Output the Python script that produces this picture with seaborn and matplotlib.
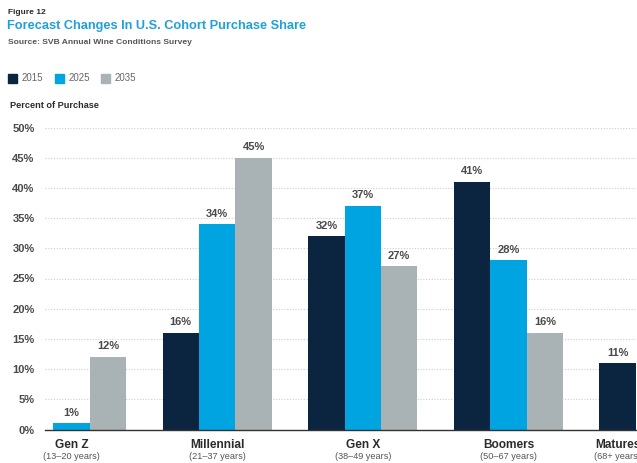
import numpy as np
import pandas as pd
import matplotlib
matplotlib.use("Agg")
import matplotlib.pyplot as plt
import seaborn as sns
from matplotlib.patches import Rectangle
import matplotlib.transforms as mtransforms

# ---- data ----
cohorts = ["Gen Z", "Millennial", "Gen X", "Boomers", "Matures"]
age_ranges = ["(13\u201320 years)", "(21\u201337 years)", "(38\u201349 years)",
              "(50\u201367 years)", "(68+ years)"]
years = ["2015", "2025", "2035"]
share_2015 = [0, 16, 32, 41, 11]
share_2025 = [1, 34, 37, 28, np.nan]
share_2035 = [12, 45, 27, 16, np.nan]
yticks = [0, 5, 10, 15, 20, 25, 30, 35, 40, 45, 50]

colors = {"2015": "#0b2440", "2025": "#00a4e0", "2035": "#a9b3b5"}
title_blue = "#1ea0da"

rows = []
for yr, vals in zip(years, [share_2015, share_2025, share_2035]):
    for c, v in zip(cohorts, vals):
        rows.append({"cohort": c, "year": yr, "share": v})
df = pd.DataFrame(rows).dropna()

sns.set_theme(style="white")
plt.rcParams["font.family"] = ["Liberation Sans", "DejaVu Sans"]
NARROW = ["Liberation Sans Narrow", "Liberation Sans", "DejaVu Sans"]

fig = plt.figure(figsize=(6.37, 4.63), dpi=100)
ax = fig.add_axes([45 / 637, 33.5 / 463, 592 / 637, 302 / 463])

sns.barplot(data=df, x="cohort", y="share", hue="year", order=cohorts,
            hue_order=years, palette=colors, width=0.75, saturation=1,
            errorbar=None, legend=False, linewidth=0, ax=ax)

ax.set_xlim(-0.182, 3.883)
ax.set_ylim(0, 50)
ax.set_yticks(yticks)
ax.set_yticklabels([f"{t}%" for t in yticks], fontsize=8, fontweight="bold",
                   color="#4a4a4a")
ax.tick_params(axis="y", length=0, pad=7.5)
ax.grid(axis="y", linestyle=(0, (1, 1.5)), color="#cfcfcf", linewidth=0.8)
ax.set_axisbelow(True)
for s in ["top", "right", "left"]:
    ax.spines[s].set_visible(False)
ax.spines["bottom"].set_color("#333333")
ax.spines["bottom"].set_linewidth(1.0)
ax.set_xlabel("")
ax.set_ylabel("")

# x tick labels (Matures label sits under its visible bar)
tick_pos = [0, 1, 2, 3, 3.75]
ax.set_xticks(tick_pos)
ax.set_xticklabels(cohorts, fontsize=8.6, fontweight="bold", color="#2b2b2b",
                   family=NARROW)
ax.tick_params(axis="x", length=0, pad=6.5)
trans = mtransforms.blended_transform_factory(ax.transData, ax.transAxes)
for p, a in zip(tick_pos, age_ranges):
    ax.text(p, -0.0885, a, transform=trans, ha="center", va="center",
            fontsize=6.6, color="#555555", family=NARROW, clip_on=False)

# bar labels
for cont in ax.containers:
    labels = ["" if (np.isnan(v) or v == 0) else f"{v:.0f}%" for v in cont.datavalues]
    ax.bar_label(cont, labels=labels, padding=4, fontsize=8, fontweight="bold",
                 color="#4a4a4a")

# header texts
fig.text(8 / 637, 1 - 12 / 463, "Figure 12", fontsize=6, fontweight="bold",
         color="#2b2b2b", family=NARROW, va="center")
fig.text(7 / 637, 1 - 26.5 / 463, "Forecast Changes In U.S. Cohort Purchase Share",
         fontsize=9.2, fontweight="bold", color=title_blue, family=NARROW,
         va="center")
fig.text(8 / 637, 1 - 42 / 463, "Source: SVB Annual Wine Conditions Survey",
         fontsize=6.1, fontweight="bold", color="#555555", family=NARROW,
         va="center")
fig.text(10 / 637, 1 - 106 / 463, "Percent of Purchase", fontsize=6.6,
         fontweight="bold", color="#2b2b2b", family=NARROW, va="center")

# legend
leg_x = [8, 55, 101]
for x0, yr in zip(leg_x, years):
    fig.patches.append(Rectangle((x0 / 637, 1 - 82.5 / 463), 9 / 637, 9 / 463,
                                 transform=fig.transFigure, color=colors[yr]))
    fig.text((x0 + 14) / 637, 1 - 78 / 463, yr, fontsize=7, color="#666666",
             family=NARROW, va="center")

fig.savefig("out.png", dpi=100)
